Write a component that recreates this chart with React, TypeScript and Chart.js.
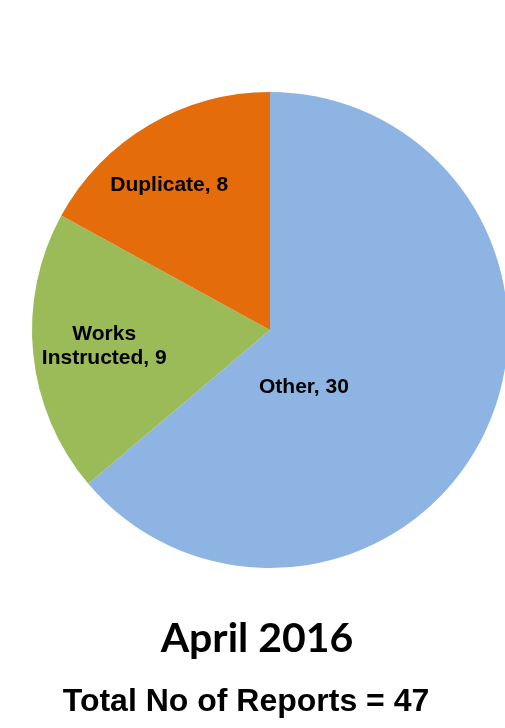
import React, { useEffect, useRef } from "react";
import { Chart, registerables } from "chart.js";

Chart.register(...registerables);

const categories = ["Other", "Works Instructed", "Duplicate"];
const values = [30, 9, 8];
const sliceColors = ["#8EB4E3", "#9BBB59", "#E46C0A"];
const labelLines = [["Other, 30"], ["Works", "Instructed, 9"], ["Duplicate, 8"]];
const chartTitle = "April 2016";
const chartSubtitle = "Total No of Reports = 47";

// label placement inside each slice: fraction along the slice angle, fraction of radius
const labelAngleFrac = [0.65, 0.5, 0.43];
const labelRadiusFrac = [0.28, 0.7, 0.74];

const sliceLabelPlugin = {
  id: "sliceLabels",
  afterDatasetsDraw(chart: any) {
    const meta = chart.getDatasetMeta(0);
    const ctx = chart.ctx;
    ctx.save();
    ctx.fillStyle = "#000";
    ctx.font = "bold 21px 'Liberation Sans', Arial, sans-serif";
    ctx.textAlign = "center";
    ctx.textBaseline = "middle";
    meta.data.forEach((arc: any, i: number) => {
      const { x, y, startAngle, endAngle, outerRadius } = arc.getProps(
        ["x", "y", "startAngle", "endAngle", "outerRadius"],
        true
      );
      const a = startAngle + labelAngleFrac[i] * (endAngle - startAngle);
      const r = outerRadius * labelRadiusFrac[i];
      const lx = x + Math.cos(a) * r;
      const ly = y + Math.sin(a) * r;
      const lines = labelLines[i];
      const lh = 24;
      lines.forEach((t, k) => {
        ctx.fillText(t, lx, ly + (k - (lines.length - 1) / 2) * lh);
      });
    });
    ctx.restore();
  },
};

export default function App() {
  const ref = useRef<HTMLCanvasElement | null>(null);
  useEffect(() => {
    if (!ref.current) return;
    const chart = new Chart(ref.current, {
      type: "pie",
      data: {
        labels: categories,
        datasets: [
          {
            data: values,
            backgroundColor: sliceColors,
            borderWidth: 0,
            hoverOffset: 0,
          },
        ],
      },
      options: {
        responsive: false,
        maintainAspectRatio: false,
        animation: false,
        layout: { padding: { left: 32, right: 32, top: 92, bottom: 160 } },
        plugins: {
          legend: { display: false },
          tooltip: { enabled: false },
          title: { display: false },
        },
      },
      plugins: [sliceLabelPlugin],
    });
    return () => chart.destroy();
  }, []);

  return (
    <div
      style={{
        position: "absolute",
        left: 0,
        top: 0,
        width: 505,
        height: 728,
        overflow: "hidden",
        background: "#fff",
      }}
    >
      <canvas
        ref={ref}
        width={540}
        height={728}
        style={{ position: "absolute", left: 0, top: 0, width: 540, height: 728 }}
      />
      <div
        style={{
          position: "absolute",
          left: 57,
          top: 616,
          width: 400,
          textAlign: "center",
          font: "bold 41px Lato, sans-serif",
          lineHeight: "41px",
          color: "#000",
          whiteSpace: "nowrap",
        }}
      >
        {chartTitle}
      </div>
      <div
        style={{
          position: "absolute",
          left: 46,
          top: 684,
          width: 400,
          textAlign: "center",
          font: "bold 32px 'Liberation Sans', Arial, sans-serif",
          lineHeight: "32px",
          color: "#000",
          whiteSpace: "nowrap",
        }}
      >
        {chartSubtitle}
      </div>
    </div>
  );
}
